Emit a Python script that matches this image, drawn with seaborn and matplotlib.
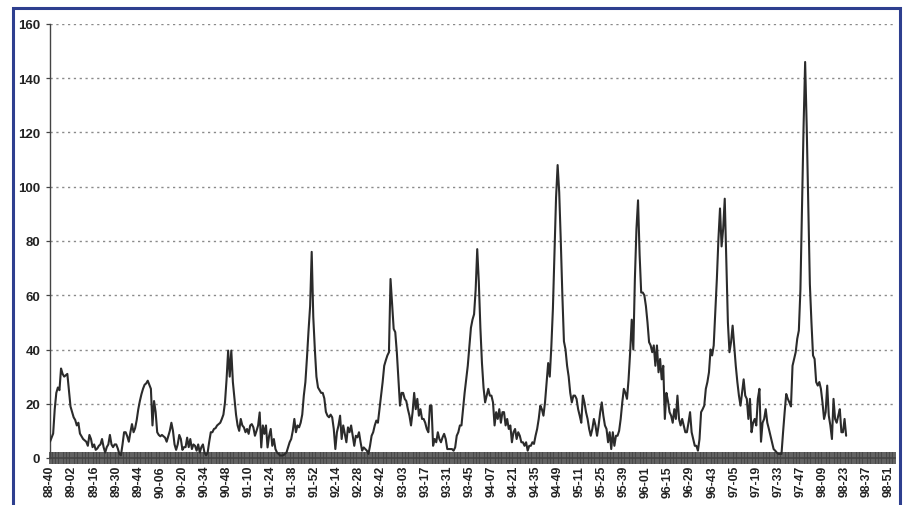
import numpy as np
import pandas as pd
import matplotlib
matplotlib.use("Agg")
import matplotlib.pyplot as plt
import seaborn as sns
from matplotlib.patches import Rectangle
from matplotlib.ticker import MultipleLocator

# Weekly counts, one list per stretch of the record (week index 0 = 88-40)
season_1 = [6, 7.5, 9, 18, 24, 26, 25, 33, 31, 30,
            30.5, 31, 25, 19, 17, 15, 14, 12, 13, 9,
            8, 7, 6.5, 6, 4.5, 8.5, 7, 4, 5, 3,
            3.5, 4.5, 5, 7, 4, 2, 4, 5, 8.5, 5,
            4, 5, 5, 3.5, 1.5, 1, 5, 9.5, 9.5, 8,
            6, 9.5, 12.5, 9.5, 11, 14, 18, 21, 23.5, 25.5,
            27, 27.5, 28.5, 27, 25.5, 12, 21, 17, 9.5, 8.5,
            8, 8.5, 8, 7.5, 6, 8, 10, 13, 10, 5,
            3, 5, 8.5, 7, 3, 4, 4, 7.5, 4, 7]
season_2 = [3.3, 5, 4.5, 2.7, 5, 2, 4, 5, 2, 1,
            2, 6, 9.5, 9.5, 10.7, 11, 12, 12.5, 13, 14.4,
            16, 20.5, 29, 39.6, 30, 39.6, 28, 22, 16, 12,
            10, 14.4, 12, 11.3, 9.5, 10.7, 8.9, 12, 12.5, 11.3,
            8.2, 10, 12, 16.8, 3.9, 12, 8.9, 12, 3.9, 8.2,
            10.7, 4.5, 7, 3.3, 2, 1.5, 0.9, 0.9, 1, 1.5,
            2, 3.9, 5.8, 7, 10, 14.4, 9.5, 12, 11.3, 13,
            16, 23, 28, 37, 47, 56, 76, 52, 40, 30,
            26, 25, 24, 24, 22, 17, 15.6, 15]
season_3 = [16, 15, 10.7, 3.3, 9.5, 12, 15.6, 7, 12, 9,
            5.8, 11.3, 9.5, 12, 8.2, 4.5, 8.2, 7.6, 9.5, 5.8,
            2.7, 3.9, 3.3, 2.7, 1.5, 4.5, 8.2, 9.5, 12, 13.8,
            13, 18, 23, 28, 34, 36, 37.8, 39, 66, 57,
            47.6, 46.4, 39, 29, 19.3, 24, 24, 21.8, 21, 18,
            15.6, 12, 16.9, 24, 18, 21.8, 15.6, 18, 14.4, 14.4,
            13, 10.7, 9.5, 19.3, 19.3, 4.5, 7, 5.8, 9.5, 7,
            5.8, 7.6, 8.9, 7, 3.3, 3.3, 3.3, 3.3, 2.7, 3.9,
            8.2, 9.5, 12, 12, 18, 24]
season_4 = [29, 34, 41, 48, 51, 53, 62, 77, 65, 48,
            35, 26, 20.5, 23, 25.5, 23, 23, 20.5, 12, 16.9,
            14.4, 18, 13, 16.9, 16.9, 12, 14.4, 10.7, 12, 5.8,
            9.5, 10.7, 7, 9.5, 8.2, 5.8, 5.8, 4.5, 5.8, 2.7,
            4.5, 4.5, 5.8, 5.2, 8.2, 10.7, 14.4, 19.3, 18, 15.6,
            20.5, 28, 35, 30, 41, 55, 75, 96, 108, 98,
            80, 60, 43, 40, 34, 30, 24, 20.5, 23, 23,
            21.8, 18, 15.6, 13, 23, 20.5, 16.9, 14.4, 10.7, 8.2,
            10.7, 14.4, 12, 8.2, 12, 16.9, 20.5, 15.6, 12]
season_5 = [10.7, 5.8, 9.5, 3.3, 9.5, 4.5, 8.2, 8.2, 10, 14.4,
            20.5, 25.5, 24, 21.8, 29, 39, 51, 40, 66, 84.5,
            95, 75, 61, 61, 60, 56, 50, 42.7, 41.5, 39,
            41.5, 34, 41.5, 31.6, 36.5, 29, 34, 14.4, 24, 21,
            16.9, 15.6, 13, 18, 14.4, 23, 14.4, 12, 14.4, 12,
            9.5, 9.5, 13, 16.9, 9.5, 7, 4.5, 4.5, 2.7, 7,
            16.9, 18, 19.3, 25.5, 28, 31.6, 40, 37.8, 41.5, 53.8,
            66, 80.8, 92, 78, 84.5, 95.6, 72, 50, 39, 42.7,
            48.8, 41.5, 34, 28, 23, 19.3, 24, 29, 23, 21.8,
            14.4, 21.8, 9.5, 13, 14.4, 12, 21.8, 25.5, 6, 13,
            14.4, 18, 13, 10.7, 8.2, 5.8, 3.3, 2.7, 2, 1.5,
            1.5, 1.5]
season_6 = [9.5, 16.9, 23.6, 21.8, 20.5, 19, 34, 36.5, 39, 44,
            47, 62, 92, 122, 146, 122, 92, 64, 50, 37.8,
            36.5, 28, 26.7, 28, 25.5, 20.5, 14.4, 16.9, 26.7, 15.6,
            12, 7, 21.8, 14.4, 13, 15.6, 18, 9.5, 9.5, 14.4,
            8.2]

# Year-week labels shown every 14th week
week_labels = ["88-40", "89-02", "89-16", "89-30", "89-44", "90-06", "90-20",
               "90-34", "90-48", "91-10", "91-24", "91-38", "91-52", "92-14",
               "92-28", "92-42", "93-03", "93-17", "93-31", "93-45", "94-07",
               "94-21", "94-35", "94-49", "95-11", "95-25", "95-39", "96-01",
               "96-15", "96-29", "96-43", "97-05", "97-19", "97-33", "97-47",
               "98-09", "98-23", "98-37", "98-51"]
label_step = 14
n_weeks_axis = 537

cases = np.concatenate([season_1, season_2, season_3, season_4, season_5, season_6])
df = pd.DataFrame({"week": np.arange(len(cases)), "cases": cases})

sns.set_theme(style="white")
plt.rcParams["font.family"] = ["Liberation Sans", "DejaVu Sans"]

W, H = 906, 506
fig = plt.figure(figsize=(W / 100, H / 100), dpi=100)
fig.patch.set_facecolor("white")
ax = fig.add_axes([50 / W, 1 - 459 / H, (895 - 50) / W, (459 - 25) / H])

sns.lineplot(data=df, x="week", y="cases", ax=ax, color="#2b2b2b",
             linewidth=1.5, zorder=3)

ax.set_xlim(0, n_weeks_axis - 1)
ax.set_ylim(0, 160)
ax.set_xlabel("")
ax.set_ylabel("")

# y axis: ticks every 20 with dotted gridlines
ax.set_yticks(np.arange(0, 161, 20))
ax.set_yticklabels([str(v) for v in range(0, 161, 20)], fontsize=9.5,
                   fontweight="bold", color="#222222")
ax.yaxis.grid(True, linestyle=(0, (1.6, 2.6)), color="#8a8a8a", linewidth=1.0)
ax.set_axisbelow(True)
ax.tick_params(axis="y", which="major", left=True, direction="out", length=3,
               width=0.9, color="#444444", pad=4)

# x axis: a tick for every week, labels every 14 weeks
ax.set_xticks(np.arange(0, label_step * len(week_labels), label_step))
ax.set_xticklabels(week_labels, rotation=90, fontsize=8.8,
                   fontweight="bold", color="#222222")
ax.xaxis.set_minor_locator(MultipleLocator(1))
ax.tick_params(axis="x", which="both", bottom=True, direction="inout",
               length=8, width=1.2, color="#444444", pad=1)

for side in ["top", "right"]:
    ax.spines[side].set_visible(False)
ax.spines["left"].set_color("#444444")
ax.spines["left"].set_linewidth(1.0)
ax.spines["bottom"].set_color("#444444")
ax.spines["bottom"].set_linewidth(1.2)

# chart frame
frame = Rectangle((13 / W, -0.05), (900 - 13) / W, 1.05 - 9 / H,
                  transform=fig.transFigure, fill=False,
                  edgecolor="#2e3f8f", linewidth=2.2, clip_on=False)
fig.patches.append(frame)

fig.savefig("out.png", dpi=100, facecolor="white")
